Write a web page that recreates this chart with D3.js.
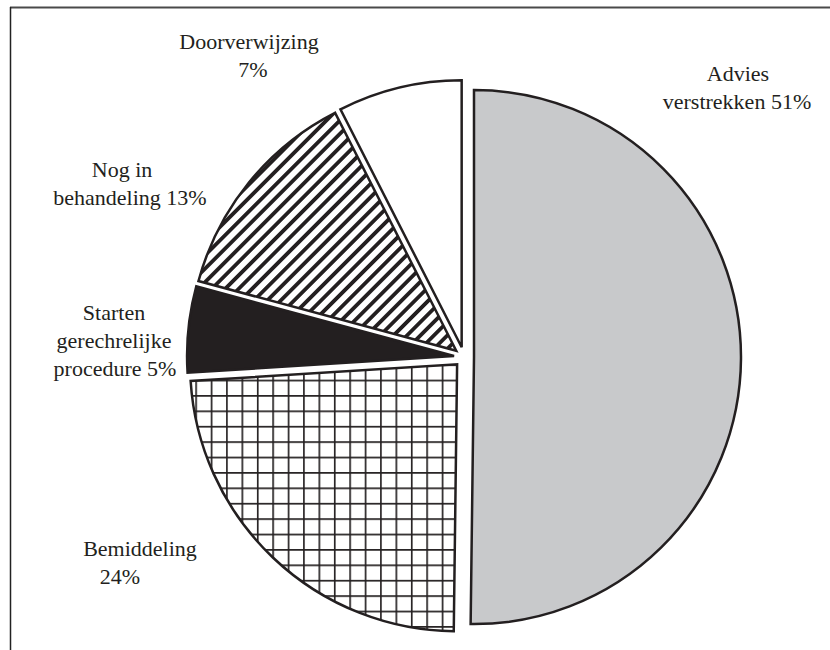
<!DOCTYPE html>
<html><head><meta charset="utf-8">
<script src="https://cdn.jsdelivr.net/npm/d3@7"></script>
<style>body{margin:0;background:#fff}svg{display:block}</style>
</head><body><svg id="c" width="830" height="650"></svg>
<script>
// ---- data ----
const categories = ["Advies verstrekken", "Bemiddeling", "Starten gerechrelijke procedure", "Nog in behandeling", "Doorverwijzing"];
const shares = [50.2, 23.8, 5.2, 13.3, 7.5];           // slice sizes as drawn
const percentLabels = ["51%", "24%", "5%", "13%", "7%"];
const labelLines = [
  ["Advies", "verstrekken 51%"],
  ["Bemiddeling", "24%"],
  ["Starten", "gerechrelijke", "procedure 5%"],
  ["Nog in", "behandeling 13%"],
  ["Doorverwijzing", "7%"]
];

// ---- layout / style ----
const fills = ["#c8c9cb", "url(#grid)", "#231f20", "url(#diag)", "#ffffff"];
// per-line centre x, first baseline y
const labelX = [[738, 737], [140, 120], [114, 114, 115], [122, 130], [249, 253]];
const labelY = [81, 556, 320, 177, 49];
const cx = 464, cy = 357, R = 267, explode = 10, lineH = 28;
const ink = "#231f20";

const svg = d3.select("#c");
const defs = svg.append("defs");
const g1 = defs.append("pattern").attr("id", "grid").attr("patternUnits", "userSpaceOnUse")
  .attr("width", 15.4).attr("height", 15.4);
g1.append("rect").attr("width", 15.4).attr("height", 15.4).attr("fill", "#fff");
g1.append("path").attr("d", "M0,0.8H15.4M0.8,0V15.4").attr("stroke", ink).attr("stroke-width", 1.7);
const g2 = defs.append("pattern").attr("id", "diag").attr("patternUnits", "userSpaceOnUse")
  .attr("width", 9.5).attr("height", 9.5).attr("patternTransform", "rotate(45)");
g2.append("rect").attr("width", 9.5).attr("height", 9.5).attr("fill", "#fff");
g2.append("rect").attr("x", 0).attr("y", 0).attr("width", 3.8).attr("height", 9.5).attr("fill", ink);

// frame
svg.append("line").attr("x1", 10).attr("y1", 7.5).attr("x2", 830).attr("y2", 7.5).attr("stroke", "#4a4a4a").attr("stroke-width", 2);
svg.append("line").attr("x1", 10.5).attr("y1", 7).attr("x2", 10.5).attr("y2", 650).attr("stroke", "#222").attr("stroke-width", 1.5);

const pie = d3.pie().sort(null).value(d => d);
const arcs = pie(shares);
const arc = d3.arc().innerRadius(0).outerRadius(R);

const g = svg.append("g").attr("transform", `translate(${cx},${cy})`);
g.selectAll("path").data(arcs).join("path")
  .attr("d", arc)
  .attr("transform", d => {
    const a = (d.startAngle + d.endAngle) / 2;
    return `translate(${explode * Math.sin(a)},${-explode * Math.cos(a)})`;
  })
  .attr("fill", (d, i) => fills[i])
  .attr("stroke", ink).attr("stroke-width", 2.5).attr("stroke-linejoin", "miter");

// labels
labelLines.forEach((lines, i) => {
  const t = svg.append("text").attr("text-anchor", "middle")
    .attr("font-family", "'Liberation Serif', 'Times New Roman', serif")
    .attr("font-size", 22).attr("fill", ink);
  lines.forEach((ln, k) => {
    t.append("tspan").attr("x", labelX[i][k]).attr("y", labelY[i] + k * lineH).text(ln);
  });
});
</script></body></html>
